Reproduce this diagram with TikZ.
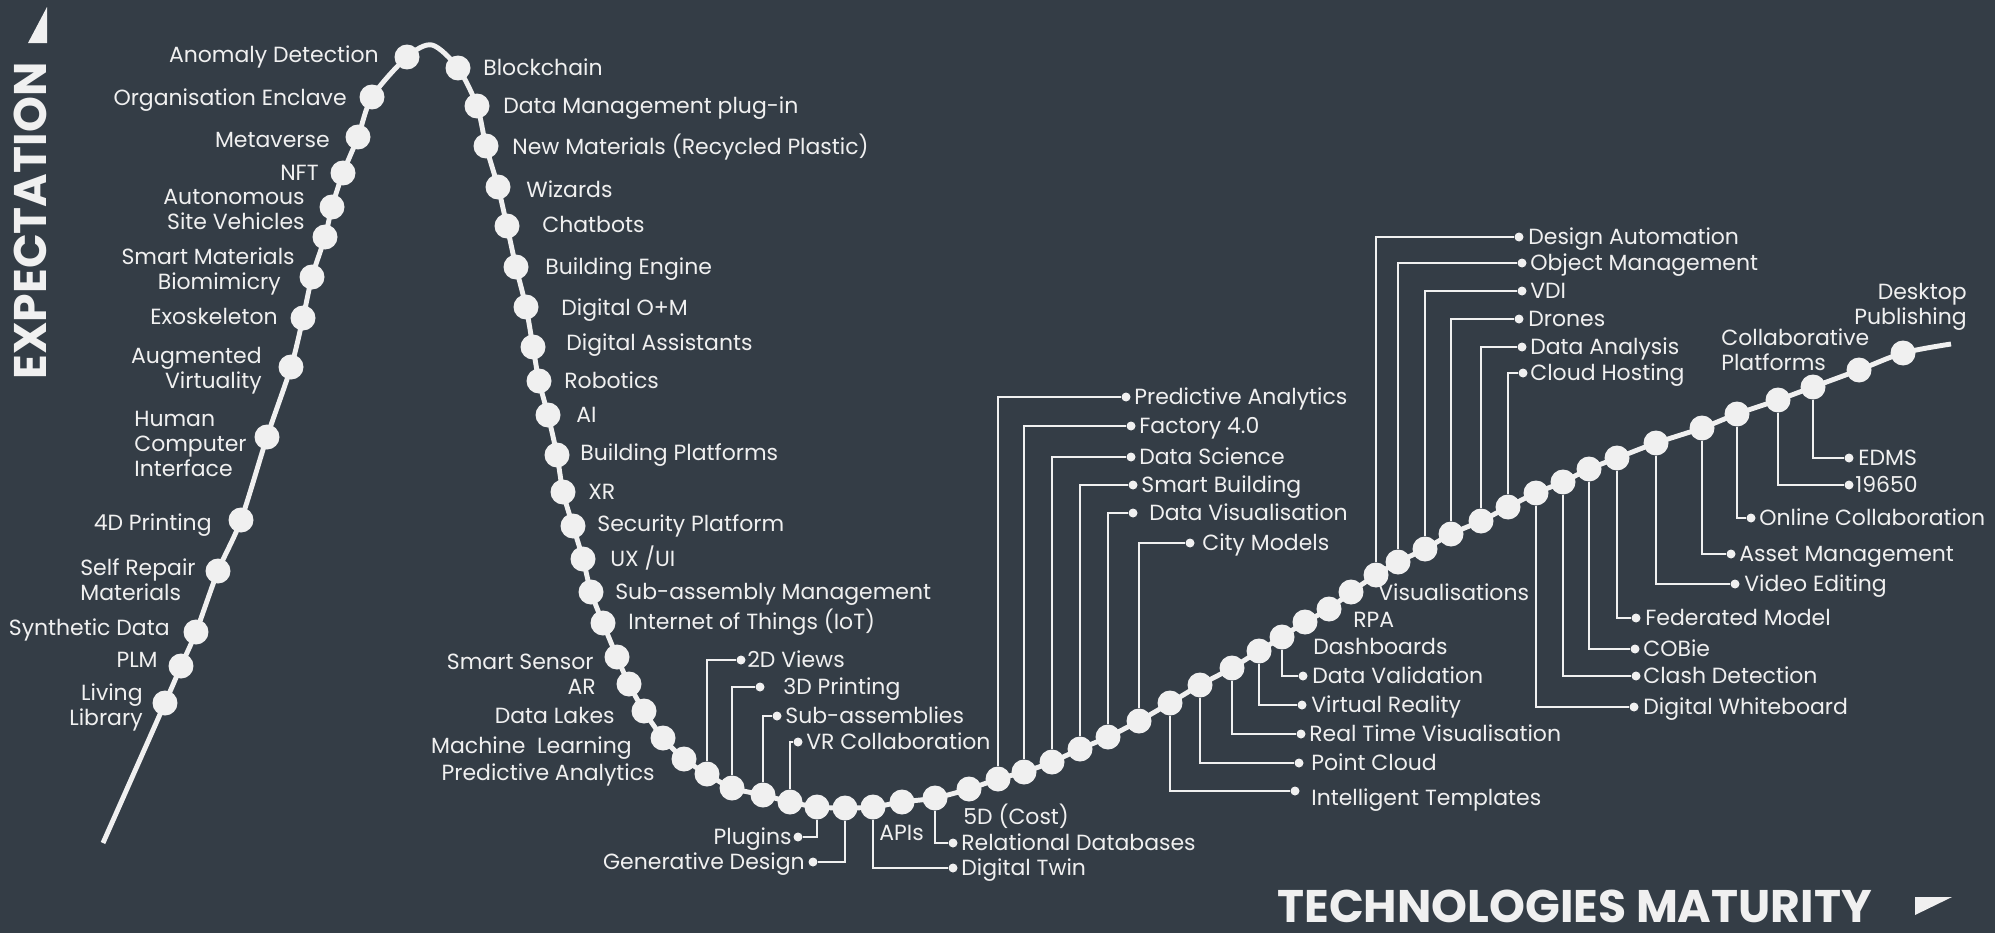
\documentclass[tikz,border=0pt]{standalone}
\usepackage{fontspec}
\setmainfont{Poppins}
\definecolor{slate}{RGB}{52,61,70}
\definecolor{chalk}{RGB}{240,240,240}
\begin{document}
\begin{tikzpicture}
	[x=0.02cm,y=-0.02cm,
	bead/.style={circle,fill=chalk,minimum size=0.5cm,inner sep=0pt},
	knob/.style={circle,fill=chalk,minimum size=0.18cm,inner sep=0pt},
	lbl/.style={text=chalk,inner sep=0pt,font=\fontsize{12.5}{14.2}\selectfont,text height=8.7pt,text depth=0pt},
	axis/.style={text=chalk,inner sep=0pt,font=\fontsize{26}{30}\selectfont\bfseries,text height=18pt,text depth=0pt},
	link/.style={draw=chalk,line width=1.5pt},
	hype/.style={draw=chalk,line width=2.8pt}]
	\fill[slate](0,0)rectangle(1995,933);
	% the curve
	\draw[hype] plot[smooth] coordinates{(103,843)(165,703)(181,666)(196,632)(218,571)(241,520)(267,437)(291,367)(303,318)(312,277)(325,237)(332,207)(343,173)(358,137)(372,97)(407,57)(432,45)(458,68)(477,106)(486,146)(498,187)(507,226)(516,267)(526,307)(533,347)(539,381)(548,415)(557,455)(563,492)(573,526)(583,559)(591,592)(603,623)(617,657)(629,684)(644,711)(663,738)(684,759)(707,774)(732,788)(763,795)(790,802)(817,807)(845,808)(873,807)(902,802)(935,798)(969,789)(998,779)(1024,772)(1052,762)(1080,749)(1108,737)(1139,721)(1170,703)(1200,685)(1232,668)(1259,651)(1282,637)(1305,622)(1329,609)(1351,592)(1376,575)(1398,562)(1425,549)(1451,534)(1481,521)(1508,507)(1536,493)(1563,482)(1589,469)(1617,458)(1656,443)(1702,428)(1737,414)(1778,400)(1813,387)(1859,370)(1903,353)(1951,344)};
	% rising side
	\node[bead,name=d1]at(165,703){};
	\node[bead,name=d2]at(181,666){};
	\node[bead,name=d3]at(196,632){};
	\node[bead,name=d4]at(218,571){};
	\node[bead,name=d5]at(241,520){};
	\node[bead,name=d6]at(267,437){};
	\node[bead,name=d7]at(291,367){};
	\node[bead,name=d8]at(303,318){};
	\node[bead,name=d9]at(312,277){};
	\node[bead,name=d10]at(325,237){};
	\node[bead,name=d11]at(332,207){};
	\node[bead,name=d12]at(343,173){};
	\node[bead,name=d13]at(358,137){};
	\node[bead,name=d14]at(372,97){};
	\node[bead,name=d15]at(407,57){};
	\node[lbl,anchor=east,align=right,name=t1]at(143,718){Living\\Library};
	\node[lbl,anchor=east,name=t2]at(158,660){PLM};
	\node[lbl,anchor=east,name=t3]at(170,628){Synthetic Data};
	\node[lbl,anchor=west,align=left,name=t4]at(80,593){Self Repair\\Materials};
	\node[lbl,anchor=east,name=t5]at(212,523){4D Printing};
	\node[lbl,anchor=west,align=left,name=t6]at(134,469){Human\\Computer\\Interface};
	\node[lbl,anchor=east,align=right,name=t7]at(262,381){Augmented\\Virtuality};
	\node[lbl,anchor=east,name=t8]at(278,317){Exoskeleton};
	\node[lbl,anchor=east,name=t9]at(281,282){Biomimicry};
	\node[lbl,anchor=east,name=t10]at(295,257){Smart Materials};
	\node[lbl,anchor=east,align=right,name=t11]at(305,222){Autonomous\\Site Vehicles};
	\node[lbl,anchor=east,name=t12]at(319,173){NFT};
	\node[lbl,anchor=east,name=t13]at(330,140){Metaverse};
	\node[lbl,anchor=east,name=t14]at(347,98){Organisation Enclave};
	\node[lbl,anchor=east,name=t15]at(379,55){Anomaly Detection};
	% falling side
	\node[bead,name=d16]at(458,68){};
	\node[bead,name=d17]at(477,106){};
	\node[bead,name=d18]at(486,146){};
	\node[bead,name=d19]at(498,187){};
	\node[bead,name=d20]at(507,226){};
	\node[bead,name=d21]at(516,267){};
	\node[bead,name=d22]at(526,307){};
	\node[bead,name=d23]at(533,347){};
	\node[bead,name=d24]at(539,381){};
	\node[bead,name=d25]at(548,415){};
	\node[bead,name=d26]at(557,455){};
	\node[bead,name=d27]at(563,492){};
	\node[bead,name=d28]at(573,526){};
	\node[bead,name=d29]at(583,559){};
	\node[bead,name=d30]at(591,592){};
	\node[bead,name=d31]at(603,623){};
	\node[bead,name=d32]at(617,657){};
	\node[bead,name=d33]at(629,684){};
	\node[bead,name=d34]at(644,711){};
	\node[bead,name=d35]at(663,738){};
	\node[bead,name=d36]at(684,759){};
	\node[lbl,anchor=west,name=t16]at(483,68){Blockchain};
	\node[lbl,anchor=west,name=t17]at(503,106){Data Management plug-in};
	\node[lbl,anchor=west,name=t18]at(512,147){New Materials (Recycled Plastic)};
	\node[lbl,anchor=west,name=t19]at(526,190){Wizards};
	\node[lbl,anchor=west,name=t20]at(542,225){Chatbots};
	\node[lbl,anchor=west,name=t21]at(545,267){Building Engine};
	\node[lbl,anchor=west,name=t22]at(561,308){Digital O+M};
	\node[lbl,anchor=west,name=t23]at(566,343){Digital Assistants};
	\node[lbl,anchor=west,name=t24]at(564,381){Robotics};
	\node[lbl,anchor=west,name=t25]at(576,415){AI};
	\node[lbl,anchor=west,name=t26]at(580,453){Building Platforms};
	\node[lbl,anchor=west,name=t27]at(588,492){XR};
	\node[lbl,anchor=west,name=t28]at(597,524){Security Platform};
	\node[lbl,anchor=west,name=t29]at(610,559){UX /UI};
	\node[lbl,anchor=west,name=t30]at(615,592){Sub-assembly Management};
	\node[lbl,anchor=west,name=t31]at(628,622){Internet of Things (IoT)};
	\node[lbl,anchor=east,name=t32]at(594,662){Smart Sensor};
	\node[lbl,anchor=east,name=t33]at(596,687){AR};
	\node[lbl,anchor=east,name=t34]at(615,716){Data Lakes};
	\node[lbl,anchor=east,name=t35]at(632,746){Machine\ \ Learning};
	\node[lbl,anchor=east,name=t36]at(655,773){Predictive Analytics};
	% trough
	\node[bead,name=d37]at(707,774){};
	\node[bead,name=d38]at(732,788){};
	\node[bead,name=d39]at(763,795){};
	\node[bead,name=d40]at(790,802){};
	\node[bead,name=d41]at(817,807){};
	\node[bead,name=d42]at(845,808){};
	\node[bead,name=d43]at(873,807){};
	\node[bead,name=d44]at(902,802){};
	\node[bead,name=d45]at(935,798){};
	\node[bead,name=d46]at(969,789){};
	\node[knob,name=k37]at(741,660){};
	\node[knob,name=k38]at(760,687){};
	\node[knob,name=k39]at(777,716){};
	\node[knob,name=k40]at(798,742){};
	\node[knob,name=k41]at(798,837){};
	\node[knob,name=k42]at(813,862){};
	\node[knob,name=k43]at(953,868){};
	\node[knob,name=k45]at(953,843){};
	\draw[link](d37)|-(k37);
	\draw[link](d38)|-(k38);
	\draw[link](d39)|-(k39);
	\draw[link](d40)|-(k40);
	\draw[link](d41)|-(k41);
	\draw[link](d42)|-(k42);
	\draw[link](d43)|-(k43);
	\draw[link](d45)|-(k45);
	\node[lbl,anchor=west,name=t37]at(747,660){2D Views};
	\node[lbl,anchor=west,name=t38]at(783,687){3D Printing};
	\node[lbl,anchor=west,name=t39]at(785,716){Sub-assemblies};
	\node[lbl,anchor=west,name=t40]at(806,742){VR Collaboration};
	\node[lbl,anchor=east,name=t41]at(792,837){Plugins};
	\node[lbl,anchor=east,name=t42]at(805,862){Generative Design};
	\node[lbl,anchor=west,name=t43]at(961,868){Digital Twin};
	\node[lbl,anchor=west,name=t44]at(879,833){APIs};
	\node[lbl,anchor=west,name=t45]at(961,843){Relational Databases};
	\node[lbl,anchor=west,name=t46]at(963,817){5D (Cost)};
	% slope
	\node[bead,name=d47]at(998,779){};
	\node[bead,name=d48]at(1024,772){};
	\node[bead,name=d49]at(1052,762){};
	\node[bead,name=d50]at(1080,749){};
	\node[bead,name=d51]at(1108,737){};
	\node[bead,name=d52]at(1139,721){};
	\node[bead,name=d53]at(1170,703){};
	\node[bead,name=d54]at(1200,685){};
	\node[bead,name=d55]at(1232,668){};
	\node[bead,name=d56]at(1259,651){};
	\node[bead,name=d57]at(1282,637){};
	\node[bead,name=d58]at(1305,622){};
	\node[bead,name=d59]at(1329,609){};
	\node[bead,name=d60]at(1351,592){};
	\node[knob,name=k47]at(1126,397){};
	\node[knob,name=k48]at(1131,426){};
	\node[knob,name=k49]at(1131,457){};
	\node[knob,name=k50]at(1133,485){};
	\node[knob,name=k51]at(1133,513){};
	\node[knob,name=k52]at(1190,543){};
	\node[knob,name=k53]at(1295,791){};
	\node[knob,name=k54]at(1299,763){};
	\node[knob,name=k55]at(1301,734){};
	\node[knob,name=k56]at(1302,705){};
	\node[knob,name=k57]at(1303,676){};
	\draw[link](d47)|-(k47);
	\draw[link](d48)|-(k48);
	\draw[link](d49)|-(k49);
	\draw[link](d50)|-(k50);
	\draw[link](d51)|-(k51);
	\draw[link](d52)|-(k52);
	\draw[link](d53)|-(k53);
	\draw[link](d54)|-(k54);
	\draw[link](d55)|-(k55);
	\draw[link](d56)|-(k56);
	\draw[link](d57)|-(k57);
	\node[lbl,anchor=west,name=t47]at(1134,397){Predictive Analytics};
	\node[lbl,anchor=west,name=t48]at(1139,426){Factory 4.0};
	\node[lbl,anchor=west,name=t49]at(1139,457){Data Science};
	\node[lbl,anchor=west,name=t50]at(1141,485){Smart Building};
	\node[lbl,anchor=west,name=t51]at(1149,513){Data Visualisation};
	\node[lbl,anchor=west,name=t52]at(1202,543){City Models};
	\node[lbl,anchor=west,name=t53]at(1311,798){Intelligent Templates};
	\node[lbl,anchor=west,name=t54]at(1311,763){Point Cloud};
	\node[lbl,anchor=west,name=t55]at(1309,734){Real Time Visualisation};
	\node[lbl,anchor=west,name=t56]at(1311,705){Virtual Reality};
	\node[lbl,anchor=west,name=t57]at(1312,676){Data Validation};
	\node[lbl,anchor=west,name=t58]at(1313,647){Dashboards};
	\node[lbl,anchor=west,name=t59]at(1353,620){RPA};
	\node[lbl,anchor=west,name=t60]at(1378,593){Visualisations};
	% plateau
	\node[bead,name=d61]at(1376,575){};
	\node[bead,name=d62]at(1398,562){};
	\node[bead,name=d63]at(1425,549){};
	\node[bead,name=d64]at(1451,534){};
	\node[bead,name=d65]at(1481,521){};
	\node[bead,name=d66]at(1508,507){};
	\node[bead,name=d67]at(1536,493){};
	\node[bead,name=d68]at(1563,482){};
	\node[bead,name=d69]at(1589,469){};
	\node[bead,name=d70]at(1617,458){};
	\node[bead,name=d71]at(1656,443){};
	\node[bead,name=d72]at(1702,428){};
	\node[bead,name=d73]at(1737,414){};
	\node[bead,name=d74]at(1778,400){};
	\node[bead,name=d75]at(1813,387){};
	\node[bead,name=d76]at(1859,370){};
	\node[bead,name=d77]at(1903,353){};
	\node[knob,name=k61]at(1519,237){};
	\node[knob,name=k62]at(1522,263){};
	\node[knob,name=k63]at(1522,291){};
	\node[knob,name=k64]at(1519,319){};
	\node[knob,name=k65]at(1522,347){};
	\node[knob,name=k66]at(1523,373){};
	\node[knob,name=k67]at(1634,707){};
	\node[knob,name=k68]at(1636,676){};
	\node[knob,name=k69]at(1635,649){};
	\node[knob,name=k70]at(1636,618){};
	\node[knob,name=k71]at(1735,584){};
	\node[knob,name=k72]at(1731,554){};
	\node[knob,name=k73]at(1751,518){};
	\node[knob,name=k74]at(1849,485){};
	\node[knob,name=k75]at(1849,458){};
	\draw[link](d61)|-(k61);
	\draw[link](d62)|-(k62);
	\draw[link](d63)|-(k63);
	\draw[link](d64)|-(k64);
	\draw[link](d65)|-(k65);
	\draw[link](d66)|-(k66);
	\draw[link](d67)|-(k67);
	\draw[link](d68)|-(k68);
	\draw[link](d69)|-(k69);
	\draw[link](d70)|-(k70);
	\draw[link](d71)|-(k71);
	\draw[link](d72)|-(k72);
	\draw[link](d73)|-(k73);
	\draw[link](d74)|-(k74);
	\draw[link](d75)|-(k75);
	\node[lbl,anchor=west,name=t61]at(1528,237){Design Automation};
	\node[lbl,anchor=west,name=t62]at(1530,263){Object Management};
	\node[lbl,anchor=west,name=t63]at(1530,291){VDI};
	\node[lbl,anchor=west,name=t64]at(1528,319){Drones};
	\node[lbl,anchor=west,name=t65]at(1530,347){Data Analysis};
	\node[lbl,anchor=west,name=t66]at(1530,373){Cloud Hosting};
	\node[lbl,anchor=west,name=t67]at(1643,707){Digital Whiteboard};
	\node[lbl,anchor=west,name=t68]at(1643,676){Clash Detection};
	\node[lbl,anchor=west,name=t69]at(1643,649){COBie};
	\node[lbl,anchor=west,name=t70]at(1645,618){Federated Model};
	\node[lbl,anchor=west,name=t71]at(1744,584){Video Editing};
	\node[lbl,anchor=west,name=t72]at(1739,554){Asset Management};
	\node[lbl,anchor=west,name=t73]at(1759,518){Online Collaboration};
	\node[lbl,anchor=west,name=t74]at(1855,485){19650};
	\node[lbl,anchor=west,name=t75]at(1858,458){EDMS};
	\node[lbl,anchor=west,align=left,name=t76]at(1721,363){Collaborative\\Platforms};
	\node[lbl,anchor=east,align=right,name=t77]at(1967,317){Desktop\\Publishing};
	% axes
	\node[axis,anchor=west,name=xlab]at(1277,907){TECHNOLOGIES MATURITY};
	\fill[chalk](1915,897)--(1952,897)--(1915,915)--cycle;
	\node[axis,rotate=90,name=ylab]at(31,221){EXPECTATION};
	\fill[chalk](47,7)--(47,43)--(28,43)--cycle;
\end{tikzpicture}
\end{document}
